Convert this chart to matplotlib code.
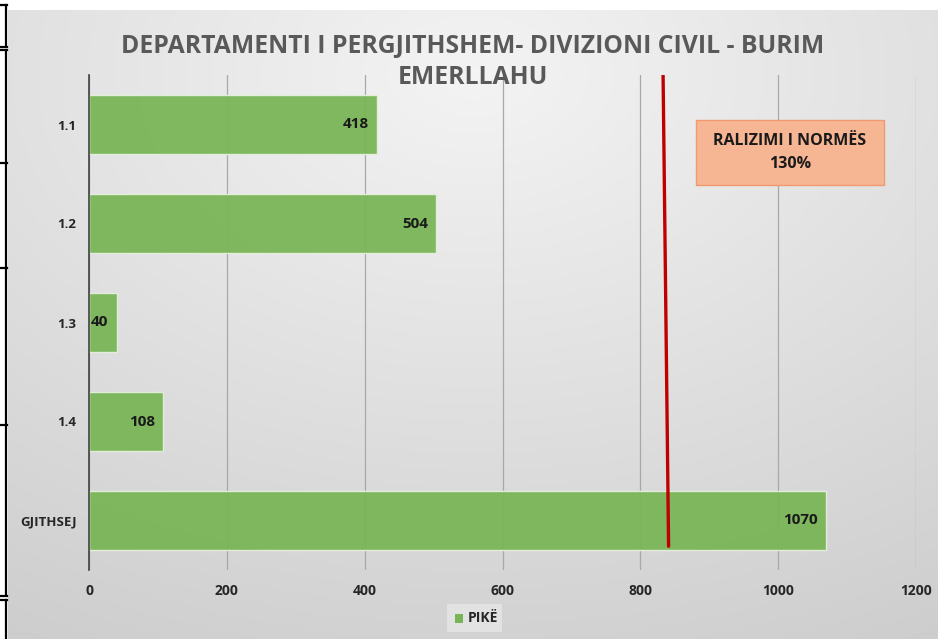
import matplotlib
matplotlib.use("Agg")
import matplotlib.pyplot as plt
import numpy as np
from matplotlib.patches import Rectangle
from matplotlib.lines import Line2D

categories = ["1.1", "1.2", "1.3", "1.4", "GJITHSEJ"]
values = [418, 504, 40, 108, 1070]
xticks = [0, 200, 400, 600, 800, 1000, 1200]
norm_line = (833, 841)   # red line x at top / bottom
title = "DEPARTAMENTI I PERGJITHSHEM- DIVIZIONI CIVIL - BURIM\nEMERLLAHU"
note = "RALIZIMI I NORMËS\n130%"
legend_label = "PIKË"

W, H = 938, 639
fam = ['Open Sans', 'DejaVu Sans']
plt.rcParams['font.family'] = fam

fig = plt.figure(figsize=(W / 100, H / 100), dpi=100)

# background gradient
bg = fig.add_axes([8 / W, 0, 1 - 8 / W, 1 - 10 / H])
yy, xx = np.mgrid[0:200, 0:300]
cx, cy = 150, 20
d = np.sqrt(((xx - cx) / 300) ** 2 + ((yy - cy) / 200) ** 2)
d = d / d.max()
g = 0.955 - 0.15 * d
img = np.dstack([g, g, g])
bg.imshow(img, aspect='auto', extent=[0, 1, 0, 1], origin='upper')
bg.axis('off')

ax = fig.add_axes([89 / W, 1 - 570 / H, (916 - 89) / W, (570 - 75) / H])
ax.patch.set_alpha(0)
ypos = np.arange(len(categories))
bars = ax.barh(ypos, values, height=0.6, color='#79B556', edgecolor='#E6F0DE',
               linewidth=1.0, alpha=0.94, zorder=2)
ax.set_ylim(len(categories) - 0.5, -0.5)
ax.set_xlim(0, 1200)
ax.set_xticks(xticks)
ax.set_xticklabels([str(t) for t in xticks], fontsize=10, fontweight='bold', color='#262626')
ax.set_yticks(ypos)
ax.set_yticklabels(categories, fontsize=9.5, fontweight='bold', color='#262626')
ax.tick_params(axis='both', length=0)
ax.tick_params(axis='x', pad=10)
ax.tick_params(axis='y', pad=9)
ax.grid(axis='x', color='#A8A8A8', linewidth=0.9, zorder=1)
ax.set_axisbelow(True)
for s in ['top', 'right', 'bottom']:
    ax.spines[s].set_visible(False)
ax.spines['left'].set_color('#404040')
ax.spines['left'].set_linewidth(1.2)

for b, v in zip(bars, values):
    ax.annotate(str(v), xy=(v, b.get_y() + b.get_height() / 2), xytext=(-6, 0),
                textcoords='offset points', ha='right', va='center',
                fontsize=11, fontweight='bold', color='#1a1a1a', zorder=4)

ax.plot([norm_line[0], norm_line[1]], [-0.5, 4.26], color='#C00000', linewidth=2.4,
        solid_capstyle='round', zorder=5)

fig.text(473 / W, 1 - 46 / H, title.split("\n")[0], ha='center', va='center',
         fontsize=17.8, fontweight='bold', color='#595959')
fig.text(473 / W, 1 - 77 / H, title.split("\n")[1], ha='center', va='center',
         fontsize=17.8, fontweight='bold', color='#595959')

# note box
rect = Rectangle((696 / W, 1 - 185 / H), 188 / W, 65 / H, transform=fig.transFigure,
                 facecolor='#F6B593', edgecolor='#F09A70', linewidth=1.0, zorder=6)
fig.add_artist(rect)
l1, l2 = note.split("\n")
fig.text(790 / W, 1 - 141 / H, l1, ha='center', va='center', fontsize=11.5,
         fontweight='bold', color='#1a1a1a', zorder=7)
fig.text(790 / W, 1 - 164 / H, l2, ha='center', va='center', fontsize=11.5,
         fontweight='bold', color='#1a1a1a', zorder=7)

# legend
lbox = Rectangle((447 / W, 1 - 632 / H), 55 / W, 28 / H, transform=fig.transFigure,
                 facecolor='#E2E2E2', edgecolor='none', zorder=6)
fig.add_artist(lbox)
sq = Rectangle((455 / W, 1 - 623 / H), 8 / W, 9 / H, transform=fig.transFigure,
               facecolor='#79B556', edgecolor='none', zorder=7)
fig.add_artist(sq)
fig.text(468 / W, 1 - 618 / H, legend_label, ha='left', va='center', fontsize=10,
         fontweight='bold', color='#262626', zorder=7)

# left border artifacts
def fl(x0, y0, x1, y1, lw=1.6):
    fig.add_artist(Line2D([x0 / W, x1 / W], [1 - y0 / H, 1 - y1 / H],
                          transform=fig.transFigure, color='black', linewidth=lw))
fl(6, 5, 6, 45)
fl(0, 5, 7, 5)
fl(0, 47, 7, 47)
fl(0, 50, 7, 50)
fl(6, 50, 6, 595)
for y in [163, 268, 425]:
    fl(0, y, 7, y)
fl(0, 596, 7, 596)
fl(0, 600, 7, 600)
fl(6, 600, 6, 639)

fig.savefig("out.png", dpi=100)
